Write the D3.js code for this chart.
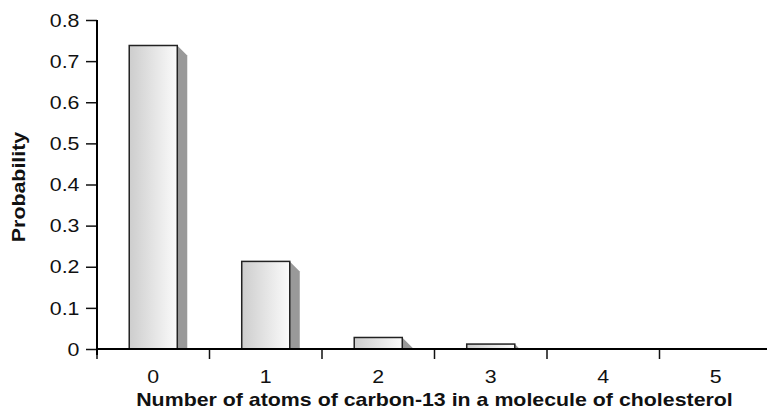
<!DOCTYPE html>
<html>
<head>
<meta charset="utf-8">
<script src="https://cdn.jsdelivr.net/npm/d3@7"></script>
<style>
  html, body { margin: 0; padding: 0; background: #fff; }
  svg { display: block; font-family: "Liberation Sans", Arial, Helvetica, sans-serif; }
</style>
</head>
<body>
<svg id="chart" width="767" height="415"></svg>
<script>
// ---- data ----
const categories = ["0", "1", "2", "3", "4", "5"];
const probabilities = [0.738, 0.213, 0.028, 0.012, 0, 0];
const yTickValues = [0, 0.1, 0.2, 0.3, 0.4, 0.5, 0.6, 0.7, 0.8];
const yTickLabels = ["0", "0.1", "0.2", "0.3", "0.4", "0.5", "0.6", "0.7", "0.8"];
const xTitle = "Number of atoms of carbon-13 in a molecule of cholesterol";
const yTitle = "Probability";

(function () {
// ---- layout ----
const svg = d3.select("#chart");
const mLeft = 97, mRight = 772, mTop = 20, mBottom = 349;
const stretch = 1.22;      // the reference font is wider than Arial
const fontSize = 17.5;

const x = d3.scaleBand().domain(categories).range([mLeft, mRight]).padding(0);
const y = d3.scaleLinear().domain([0, 0.8]).range([mBottom, mTop]);

const barW = x.bandwidth() * 0.427;
const shadowOff = 10;

// gradient
const defs = svg.append("defs");
const grad = defs.append("linearGradient").attr("id", "barGrad")
  .attr("x1", "0%").attr("x2", "100%").attr("y1", "0%").attr("y2", "0%");
grad.append("stop").attr("offset", "0%").attr("stop-color", "#cdcdcd");
grad.append("stop").attr("offset", "100%").attr("stop-color", "#fbfbfb");

const data = categories.map((c, i) => ({ c, v: probabilities[i] }));

// shadows
svg.append("g").selectAll("polygon").data(data).enter().append("polygon")
  .attr("fill", "#999999")
  .attr("points", d => {
    const cx = x(d.c) + x.bandwidth() / 2;
    const r = cx + barW / 2;
    const t = y(d.v);
    const h = y(0) - t;
    const o = Math.min(shadowOff, h);
    return [[r, t], [r + o, t + o], [r + o, y(0)], [r, y(0)]].map(p => p.join(",")).join(" ");
  });

// bars
svg.append("g").selectAll("rect").data(data).enter().append("rect")
  .attr("x", d => x(d.c) + x.bandwidth() / 2 - barW / 2)
  .attr("y", d => y(d.v))
  .attr("width", barW)
  .attr("height", d => y(0) - y(d.v))
  .attr("fill", "url(#barGrad)")
  .attr("stroke", "#222")
  .attr("stroke-width", 1.5);

// y axis
const yAxis = d3.axisLeft(y)
  .tickValues(yTickValues)
  .tickFormat((d, i) => yTickLabels[i])
  .tickSize(11)
  .tickSizeOuter(0);
const gy = svg.append("g").attr("transform", `translate(${mLeft},0)`).call(yAxis);
gy.select(".domain").remove();
gy.selectAll(".tick line").attr("stroke", "#111").attr("stroke-width", 1.5);
gy.selectAll(".tick text")
  .attr("font-size", fontSize)
  .attr("font-family", "Liberation Sans, Arial, sans-serif")
  .attr("fill", "#111")
  .attr("x", -17.5 / stretch)
  .attr("dy", "0.35em")
  .attr("transform", `scale(${stretch},1)`);

// x axis labels (centered in bands)
const xAxis = d3.axisBottom(x).tickSize(0).tickSizeOuter(0);
const gx = svg.append("g").attr("transform", `translate(0,${mBottom})`).call(xAxis);
gx.select(".domain").remove();
gx.selectAll(".tick text")
  .attr("font-size", fontSize)
  .attr("font-family", "Liberation Sans, Arial, sans-serif")
  .attr("fill", "#111")
  .attr("y", 0)
  .attr("dy", 0)
  .attr("transform", `translate(0,33.5) scale(${stretch},1)`);

// x boundary ticks
const boundaries = categories.map(c => x(c)).concat([x.range()[1]]);
svg.append("g").selectAll("line").data(boundaries).enter().append("line")
  .attr("x1", d => d).attr("x2", d => d)
  .attr("y1", mBottom).attr("y2", mBottom + 10)
  .attr("stroke", "#111").attr("stroke-width", 1.5);

// axis lines
svg.append("line").attr("x1", mLeft).attr("x2", mRight)
  .attr("y1", y(0)).attr("y2", y(0))
  .attr("stroke", "#000").attr("stroke-width", 2);
svg.append("line").attr("x1", mLeft).attr("x2", mLeft)
  .attr("y1", y(0.8)).attr("y2", y(0) + 6)
  .attr("stroke", "#000").attr("stroke-width", 2);

// titles
svg.append("text")
  .attr("transform", `translate(${(mLeft + mRight) / 2},406) scale(${stretch},1)`)
  .attr("text-anchor", "middle")
  .attr("font-weight", "bold")
  .attr("font-size", fontSize)
  .attr("fill", "#111")
  .text(xTitle);

svg.append("text")
  .attr("transform", `translate(25,187) rotate(-90) scale(${stretch},1)`)
  .attr("text-anchor", "middle")
  .attr("font-weight", "bold")
  .attr("font-size", fontSize)
  .attr("fill", "#111")
  .text(yTitle);
})();
</script>
</body>
</html>
